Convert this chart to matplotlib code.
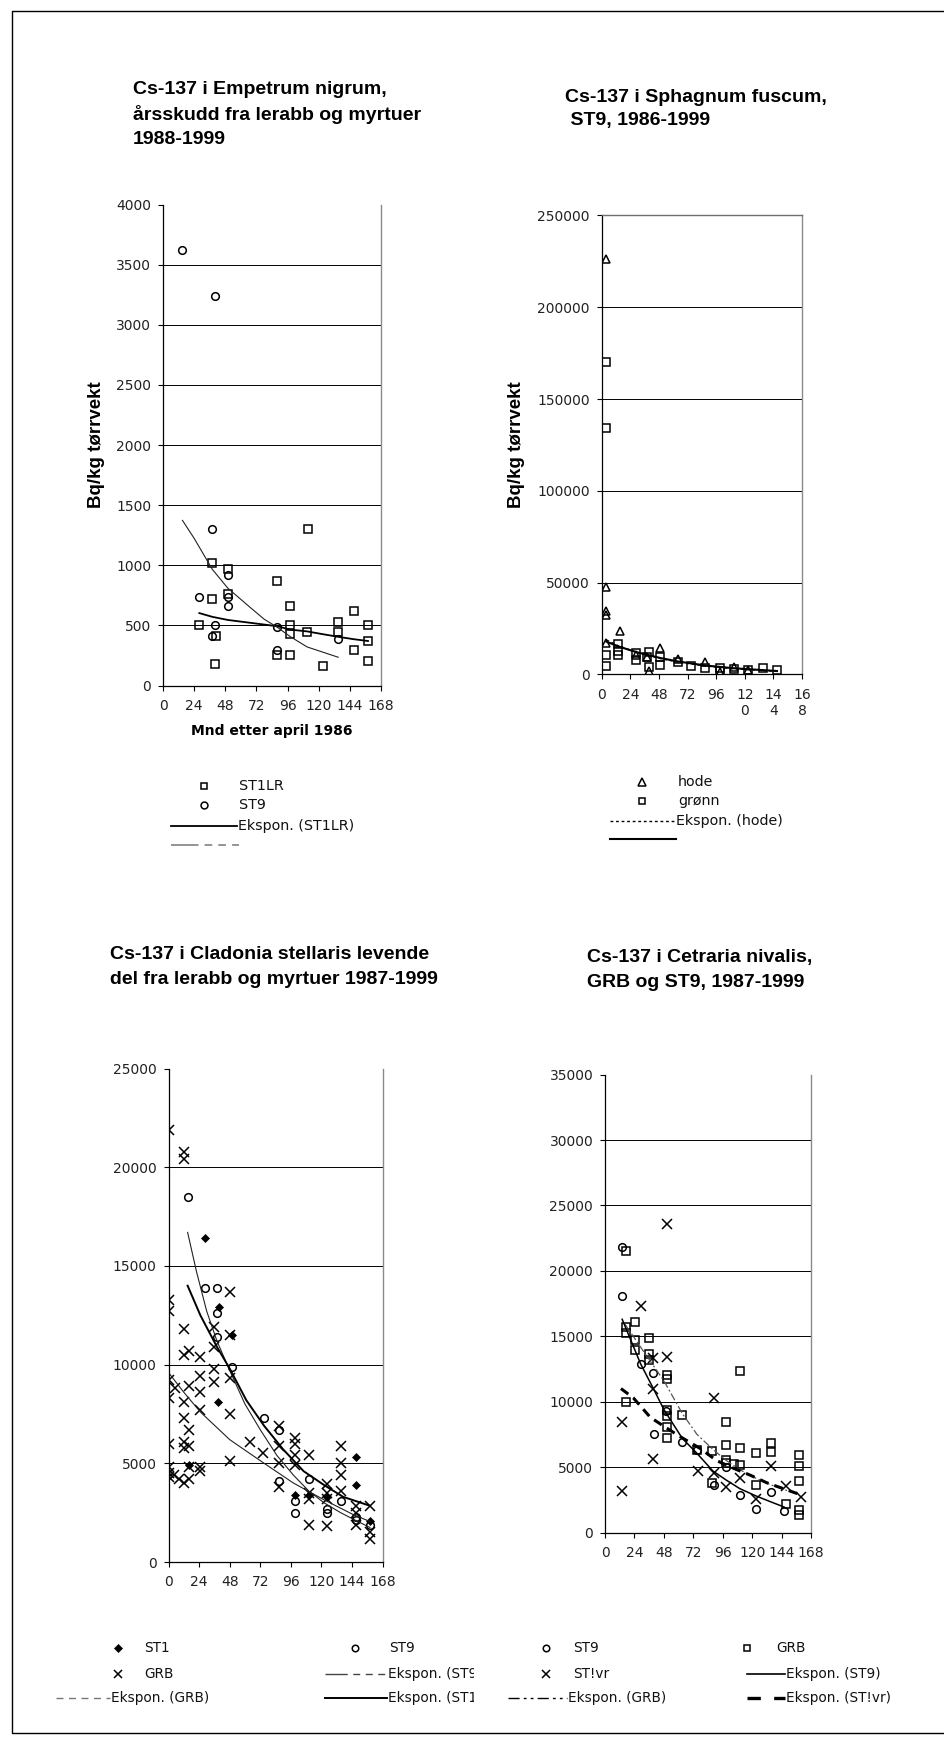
import matplotlib
matplotlib.use("Agg")
import matplotlib.pyplot as plt
from matplotlib.transforms import Bbox, TransformedBbox

W, H = 944, 1744

# ---------------- DATA ----------------
# Chart 1: Empetrum nigrum
emp_st1lr_x = [28, 38, 38, 41, 40, 50, 50, 88, 88, 98, 98, 98, 98, 112, 111, 123, 135, 135, 147, 147, 158, 158, 158]
emp_st1lr_y = [500, 1015, 720, 413, 178, 972, 757, 866, 250, 660, 499, 427, 250, 1302, 442, 163, 528, 442, 617, 292, 499, 370, 206]
emp_st9_x = [15, 40, 38, 50, 28, 50, 50, 40, 38, 88, 88, 135]
emp_st9_y = [3624, 3243, 1302, 923, 734, 737, 660, 499, 413, 485, 292, 384]
emp_fit_st1lr_x = [28, 38, 50, 88, 98, 111, 123, 135, 147, 158]
emp_fit_st1lr_y = [602, 571, 545, 493, 465, 450, 427, 405, 385, 370]
emp_fit_st9_x = [15, 24, 38, 50, 67, 78, 88, 98, 111, 123, 135]
emp_fit_st9_y = [1373, 1224, 966, 809, 651, 551, 485, 407, 321, 278, 235]

# Chart 2: Sphagnum fuscum
sph_hode_x = [4, 4, 4, 4, 4, 15, 29, 38, 40, 49, 64, 87, 99, 111, 123]
sph_hode_y = [226500, 47500, 34500, 32500, 17300, 23900, 10500, 9500, 2000, 14700, 8400, 6900, 1500, 4200, 2700]
sph_gronn_x = [4, 4, 4, 4, 14, 14, 14, 29, 29, 38, 40, 40, 49, 49, 64, 75, 87, 99, 99, 111, 123, 135, 147]
sph_gronn_y = [170000, 134000, 10500, 4700, 16600, 12700, 10500, 11500, 7800, 9400, 12400, 4100, 9600, 5100, 6600, 4700, 3300, 3600, 1900, 2900, 2400, 3600, 2700]
sph_fit_hode_x = [4, 14, 29, 49, 64, 87, 111, 147]
sph_fit_hode_y = [18800, 15600, 12200, 8700, 6800, 4600, 3100, 1700]
sph_fit_gronn_x = [4, 14, 29, 49, 64, 87, 111, 147]
sph_fit_gronn_y = [17900, 15300, 12200, 9000, 7100, 4900, 3400, 1900]
sph_xticklabels = ['0', '24', '48', '72', '96', '12\n0', '14\n4', '16\n8']

# Chart 3: Cladonia stellaris
clad_st1_x = [16, 29, 40, 39, 50, 99, 110, 124, 147, 147, 158]
clad_st1_y = [4900, 16400, 12900, 8100, 11500, 3400, 3400, 3300, 5300, 3900, 2100]
clad_st9_x = [15, 29, 38, 38, 38, 50, 75, 87, 87, 99, 99, 110, 124, 124, 135, 147, 147, 158]
clad_st9_y = [18500, 13900, 13900, 12600, 11400, 9900, 7300, 6700, 4100, 3100, 2500, 4200, 2700, 2500, 3100, 2300, 2150, 1900]
clad_grb_x = [0, 0, 0, 0, 0, 0, 0, 0, 0, 5, 4, 8,
              12, 12, 12, 12, 12, 12, 12, 12, 12,
              16, 16, 16, 16, 16, 16,
              25, 25, 25, 25, 25, 25,
              36, 36, 36, 36,
              48, 48, 48, 48, 48,
              64, 74,
              87, 87, 87, 87,
              99, 99, 99, 99,
              110, 110, 110, 110,
              124, 124, 124, 124,
              135, 135, 135, 135,
              147, 147, 147,
              158, 158, 158]
clad_grb_y = [21900, 13300, 12700, 9200, 8300, 6000, 4800, 4500, 4300, 8800, 4400, 4200,
              20750, 20400, 11800, 10500, 8100, 7300, 6100, 5800, 4000,
              10700, 8900, 6700, 5900, 4800, 4200,
              10400, 9400, 8600, 7700, 4800, 4600,
              11900, 10900, 9800, 9100,
              13700, 11500, 9300, 7500, 5100,
              6100, 5500,
              6900, 5900, 5000, 3800,
              6300, 6000, 5400, 4900,
              5400, 3500, 3200, 1850,
              3950, 3500, 3200, 1800,
              5900, 5000, 4400, 3600,
              2850, 2500, 1900,
              2850, 1500, 1150]
clad_fit_st9_x = [15, 22, 30, 38, 48, 60, 72, 85, 98, 110, 122, 135, 147, 158]
clad_fit_st9_y = [16700, 14700, 12700, 11200, 9700, 8000, 6700, 5400, 4400, 3600, 3000, 2500, 2100, 1750]
clad_fit_st1_x = [15, 25, 38, 48, 61, 75, 90, 106, 122, 137, 158]
clad_fit_st1_y = [14000, 12500, 10900, 9800, 8200, 6900, 5700, 4600, 3900, 3300, 2850]
clad_fit_grb_x = [0, 12, 25, 48, 75, 98, 122, 145, 158]
clad_fit_grb_y = [9600, 8600, 7600, 6200, 5000, 4000, 3150, 2400, 2050]

# Chart 4: Cetraria nivalis
cetr_st9_x = [14, 14, 29, 39, 40, 50, 63, 75, 89, 99, 110, 123, 135, 146]
cetr_st9_y = [21800, 18100, 12900, 12200, 7500, 9300, 6900, 6300, 3600, 5000, 2850, 1800, 3100, 1620]
cetr_grb_x = [17, 17, 17, 17, 24.5, 24.5, 24.5, 35.5, 35.5, 35.5,
              50.5, 50.5, 50.5, 50.5, 50.5, 50.5, 63, 75, 87.5, 87.5,
              99, 99, 99, 99, 105, 110.5, 110.5, 110.5, 123.5, 123.5,
              135, 135, 148, 158, 158, 158, 158, 158]
cetr_grb_y = [21500, 15700, 15250, 9950, 16100, 14750, 13950, 14900, 13650, 13200,
              12050, 11750, 9400, 8900, 8100, 7250, 8950, 6300, 6250, 3800,
              8450, 6700, 5550, 5300, 5200, 12350, 6450, 5150, 6050, 3650,
              6850, 6150, 2200, 5950, 5100, 3900, 1750, 1350]
cetr_stlvr_x = [14, 14, 29, 39, 39, 39, 50.5, 50.5, 76, 88.5, 88.5, 99, 110.5, 123.5, 135, 147.5, 159.5]
cetr_stlvr_y = [8450, 3200, 17300, 13300, 11000, 5650, 23600, 13400, 4700, 10300, 4550, 3500, 4150, 2550, 5100, 3550, 2700]
cetr_fit_st9_x = [14, 29, 40, 48, 63, 75, 88, 99, 110, 123, 135, 146]
cetr_fit_st9_y = [16300, 12900, 10900, 9400, 7200, 6050, 4700, 4000, 3350, 2800, 2350, 1950]
cetr_fit_grb_x = [15, 31, 48, 63, 75, 88, 99, 110, 123, 135, 147, 158]
cetr_fit_grb_y = [16100, 13900, 11600, 9100, 7500, 6350, 5500, 4800, 4150, 3650, 3250, 2950]
cetr_fit_stlvr_x = [13, 23, 37, 50, 60, 78, 91, 105, 118, 132, 147, 159]
cetr_fit_stlvr_y = [11000, 10300, 8800, 8000, 7400, 6400, 5500, 4900, 4400, 3800, 3300, 2900]

month_ticks = [0, 24, 48, 72, 96, 120, 144, 168]

# ---------------- STYLE ----------------
TICKFONT = ['DejaVu Sans']
TITLEFONT = ['Liberation Sans', 'DejaVu Sans']
LEGFONT = ['DejaVu Sans']

fig = plt.figure(figsize=(W / 100, H / 100), dpi=100)
fig.patch.set_facecolor('white')


def rect(l, r, t, b):
    return [l / W, 1 - b / H, (r - l) / W, (b - t) / H]


def style_axes(ax, ymax, ystep, top_line=False):
    ax.set_xlim(0, 168)
    ax.set_ylim(0, ymax)
    ax.set_xticks(month_ticks)
    ax.set_yticks(list(range(0, ymax + 1, ystep)))
    ax.tick_params(direction='out', length=3.5, width=0.8, labelsize=10, colors='black')
    ax.tick_params(axis='y', pad=5)
    ax.tick_params(axis='x', pad=6)
    for lab in ax.get_xticklabels() + ax.get_yticklabels():
        lab.set_family(TICKFONT)
        lab.set_color('#222222')
    ax.spines['left'].set_color('black')
    ax.spines['bottom'].set_color('black')
    ax.spines['left'].set_linewidth(0.9)
    ax.spines['bottom'].set_linewidth(0.9)
    ax.spines['right'].set_color('#8a8a8a')
    ax.spines['right'].set_linewidth(1.0)
    if top_line:
        ax.spines['top'].set_color('#707070')
        ax.spines['top'].set_linewidth(1.0)
    else:
        ax.spines['top'].set_visible(False)
    ax.yaxis.grid(True, color='black', linewidth=0.7)
    ax.set_axisbelow(True)
    gl = ax.yaxis.get_gridlines()
    gl[0].set_visible(False)
    gl[-1].set_visible(False)


sq = dict(marker='s', ms=5.5, mfc='none', mec='black', mew=1.1, ls='none')
ci = dict(marker='o', ms=5.5, mfc='none', mec='black', mew=1.1, ls='none')
tr = dict(marker='^', ms=6, mfc='none', mec='black', mew=1.1, ls='none')
xx = dict(marker='x', ms=6.5, mec='black', mew=1.1, ls='none')
di = dict(marker='D', ms=4.5, mfc='black', mec='black', mew=0.5, ls='none')

YLKW = dict(family=['Liberation Sans', 'DejaVu Sans'], fontweight='bold', fontsize=13.5)

# ---- Chart 1 ----
ax1 = fig.add_axes(rect(163, 381, 204.5, 685.5))
style_axes(ax1, 4000, 500)
ax1.plot(emp_st1lr_x, emp_st1lr_y, **sq)
ax1.plot(emp_st9_x, emp_st9_y, **ci)
ax1.plot(emp_fit_st1lr_x, emp_fit_st1lr_y, color='black', lw=1.3)
ax1.plot(emp_fit_st9_x, emp_fit_st9_y, color='#222222', lw=0.8)
ax1.set_ylabel('Bq/kg tørrvekt', labelpad=8, **YLKW)
ax1.set_xlabel('Mnd etter april 1986', family=TICKFONT, fontweight='bold', fontsize=10, labelpad=8)

# ---- Chart 2 ----
ax2 = fig.add_axes(rect(601.7, 802, 215.5, 674.5))
style_axes(ax2, 250000, 50000, top_line=True)
ax2.set_xticklabels(sph_xticklabels)
for lab in ax2.get_xticklabels():
    lab.set_family(TICKFONT)
    lab.set_color('#222222')
ax2.plot(sph_hode_x, sph_hode_y, **tr)
ax2.plot(sph_gronn_x, sph_gronn_y, **sq)
ax2.plot(sph_fit_hode_x, sph_fit_hode_y, color='black', lw=1.0, ls=(0, (2, 2)))
ax2.plot(sph_fit_gronn_x, sph_fit_gronn_y, color='black', lw=1.5)
ax2.set_ylabel('Bq/kg tørrvekt', labelpad=9, **YLKW)

# ---- Chart 3 ----
ax3 = fig.add_axes(rect(168.5, 382.7, 1068.6, 1562))
style_axes(ax3, 25000, 5000)
ax3.plot(clad_grb_x, clad_grb_y, **xx)
ax3.plot(clad_st9_x, clad_st9_y, **ci)
ax3.plot(clad_st1_x, clad_st1_y, **di)
ax3.plot(clad_fit_grb_x, clad_fit_grb_y, color='#222222', lw=0.8)
ax3.plot(clad_fit_st9_x, clad_fit_st9_y, color='#222222', lw=0.8)
ax3.plot(clad_fit_st1_x, clad_fit_st1_y, color='black', lw=1.4)

# ---- Chart 4 ----
ax4 = fig.add_axes(rect(605, 811, 1074.6, 1532.5))
style_axes(ax4, 35000, 5000)
ax4.plot(cetr_grb_x, cetr_grb_y, **sq)
ax4.plot(cetr_st9_x, cetr_st9_y, **ci)
ax4.plot(cetr_stlvr_x, cetr_stlvr_y, **xx)
ax4.plot(cetr_fit_grb_x, cetr_fit_grb_y, color='#555555', lw=0.9, ls=(0, (6, 2, 1.5, 2)))
ax4.plot(cetr_fit_st9_x, cetr_fit_st9_y, color='black', lw=1.1)
ax4.plot(cetr_fit_stlvr_x, cetr_fit_stlvr_y, color='black', lw=2.2, ls=(0, (3, 2)))

# ---------------- OVERLAY: titles, legends, border ----------------
ov = fig.add_axes([0, 0, 1, 1])
ov.set_xlim(0, W)
ov.set_ylim(H, 0)
ov.axis('off')
ov.patch.set_alpha(0)

# border
ov.plot([W + 5, 12, 12, W + 5], [11, 11, 1733, 1733], color='black', lw=1.0, clip_on=False)

tkw = dict(family=TITLEFONT, fontweight='bold', fontsize=14, va='center', ha='left')
ov.text(133, 90, 'Cs-137 i Empetrum nigrum,', **tkw)
ov.text(133, 114.5, 'årsskudd fra lerabb og myrtuer', **tkw)
ov.text(133, 139.5, '1988-1999', **tkw)
ov.text(565, 97, 'Cs-137 i Sphagnum fuscum,', **tkw)
ov.text(565, 121, ' ST9, 1986-1999', **tkw)
ov.text(110, 954, 'Cs-137 i Cladonia stellaris levende', **tkw)
ov.text(110, 979.5, 'del fra lerabb og myrtuer 1987-1999', **tkw)
ov.text(587, 957, 'Cs-137 i Cetraria nivalis,', **tkw)
ov.text(587, 982.5, 'GRB og ST9, 1987-1999', **tkw)

lkw = dict(family=LEGFONT, fontsize=10.3, va='center', ha='left', color='#111111')


def mark(x, y, st, scale=1.0):
    d = dict(st)
    d['ms'] = d['ms'] * scale
    ov.plot([x], [y], **d)


# Legend 1
mark(203.5, 786, sq, 0.9)
ov.text(239, 786, 'ST1LR', **lkw)
mark(203.5, 805, ci, 0.9)
ov.text(239, 805, 'ST9', **lkw)
ov.plot([171, 237], [825.5, 825.5], color='black', lw=1.3)
ov.text(238, 825.5, 'Ekspon. (ST1LR)', **lkw)
ov.plot([171, 239], [844.5, 844.5], color='#777777', lw=1.1, ls=(0, (18, 4, 5, 4, 5, 4, 5, 4)))

# Legend 2
mark(642, 782, tr, 0.9)
ov.text(678, 782, 'hode', **lkw)
mark(642, 801, sq, 0.9)
ov.text(678, 801, 'grønn', **lkw)
ov.plot([610, 675], [820.5, 820.5], color='black', lw=1.0, ls=(0, (2, 2)))
ov.text(676, 820.5, 'Ekspon. (hode)', **lkw)
ov.plot([610, 676], [839, 839], color='black', lw=1.5)

# Bottom legend
bkw = dict(family=LEGFONT, fontsize=9.8, va='center', ha='left', color='#111111')
r1, r2, r3 = 1648, 1673.5, 1698

mark(118, r1, di, 0.9)
ov.text(144, r1, 'ST1', **bkw)
mark(355, r1, ci, 0.85)
ov.text(389, r1, 'ST9', **bkw)
mark(546, r1, ci, 0.85)
ov.text(573, r1, 'ST9', **bkw)
mark(747, r1, sq, 0.85)
ov.text(776, r1, 'GRB', **bkw)

mark(118, r2, xx, 0.8)
ov.text(144, r2, 'GRB', **bkw)
ov.plot([325, 387], [r2, r2], color='#444444', lw=1.0, ls=(0, (16, 4, 5, 4, 5, 4, 5, 4)))
t1 = ov.text(388, r2, 'Ekspon. (ST9)', **bkw)
mark(546, r2, xx, 0.8)
ov.text(573, r2, 'ST!vr', **bkw)
ov.plot([747, 785], [r2, r2], color='black', lw=1.2)
ov.text(786, r2, 'Ekspon. (ST9)', **bkw)

ov.plot([56, 110], [r3, r3], color='#777777', lw=1.0, ls=(0, (5, 4)))
ov.text(111, r3, 'Ekspon. (GRB)', **bkw)
ov.plot([325, 387], [r3, r3], color='black', lw=1.4)
t2 = ov.text(388, r3, 'Ekspon. (ST1)', **bkw)
ov.plot([508, 567], [r3, r3], color='black', lw=1.0, ls=(0, (8, 3, 2, 3, 2, 3)))
ov.text(568, r3, 'Ekspon. (GRB)', **bkw)
ov.plot([747, 785], [r3, r3], color='black', lw=2.4, ls=(0, (4, 4)))
ov.text(786, r3, 'Ekspon. (ST!vr)', **bkw)

# the two legend entries are truncated at the column boundary in the original
clip_bb = TransformedBbox(Bbox([[0, 0], [474, H]]), ov.transData)
for t in (t1, t2):
    t.set_clip_on(True)
    t.set_clip_box(clip_bb)

fig.savefig('out.png', dpi=100, facecolor='white')
